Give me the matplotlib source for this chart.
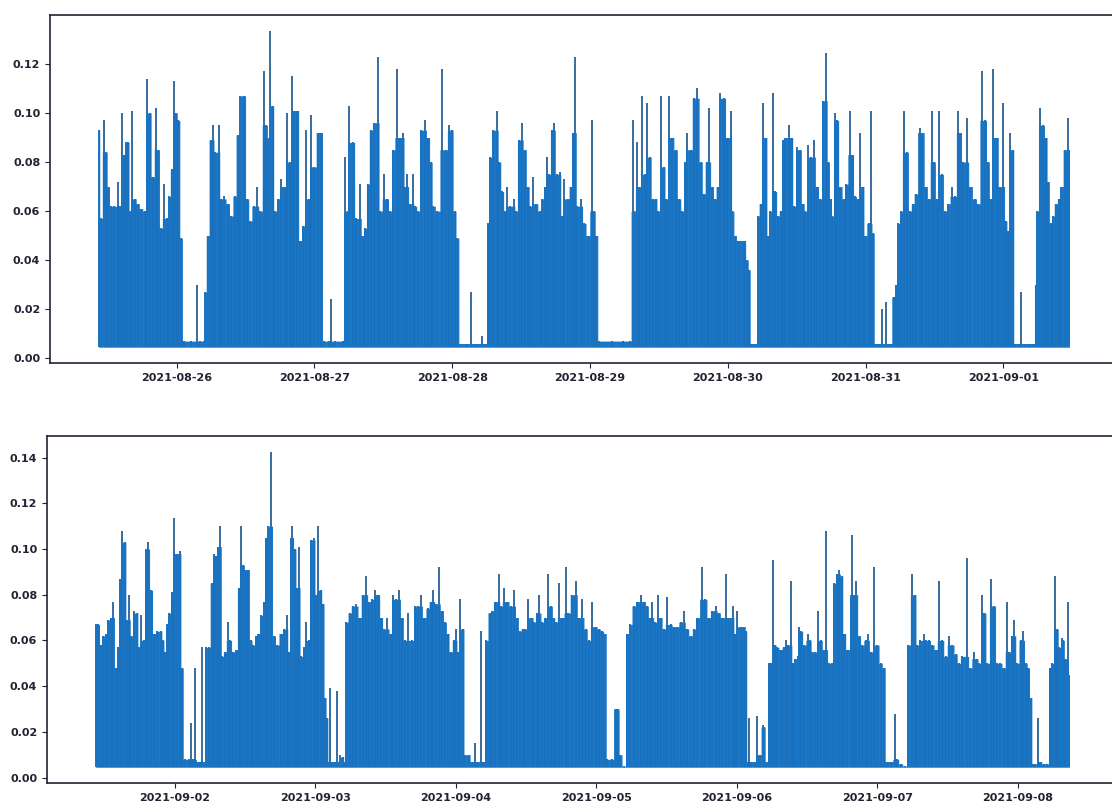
import numpy as np
import pandas as pd
import matplotlib
matplotlib.use("Agg")
import matplotlib.pyplot as plt
import matplotlib.dates as mdates

# first week, hours counted from 2021-08-25 00:00
top_start = "2021-08-25"
top_hours = [
    10.4, 10.8, 11.3, 11.7, 12.1, 12.5, 13.1, 13.7, 14.1, 14.4, 14.8, 15.2, 15.5, 15.9, 16.3, 16.7,
    17.2, 17.8, 18.4, 18.9, 19.3, 19.8, 20.4, 20.8, 21.2, 21.8, 22.3, 22.7, 23.1, 23.5, 23.9, 24.3, 24.8,
    25.2, 26.5, 27.5, 28.0, 28.7,
    28.9, 29.4, 29.9, 30.3, 30.7, 31.3, 31.7, 32.3, 32.9, 33.5, 34.1, 34.6, 35.1, 35.7, 36.3, 36.8,
    37.4, 38.0, 38.6, 39.2, 39.6, 40.0, 40.3, 40.7, 41.1, 41.7, 42.2, 42.8, 43.2, 43.7, 44.1, 44.5,
    45.0, 45.5, 46.0, 46.6, 47.0, 47.4, 48.0, 48.6, 49.2,
    49.6, 50.6, 50.9, 51.5, 53.0,
    53.4, 53.8, 54.1, 54.7, 55.3, 55.9, 56.4, 56.8, 57.3, 57.8, 58.4, 59.0, 59.5, 60.1, 60.6, 61.2,
    61.7, 62.3, 62.9, 63.4, 63.8, 64.2, 64.6, 65.1, 65.5, 66.1, 66.6, 67.2, 67.8, 68.3, 68.7, 69.4,
    70.3, 70.9, 71.4, 71.9, 72.4, 72.9,
    73.4, 74.5, 75.3, 75.9, 77.1, 77.8,
    78.2, 78.6, 79.1, 79.8, 80.2, 80.7, 81.2, 81.6, 82.1, 82.7, 83.1, 83.6, 84.1, 84.6, 85.2, 85.6,
    86.0, 86.6, 87.2, 87.7, 88.1, 88.5, 88.9, 89.3, 89.7, 90.2, 90.7, 91.1, 91.5, 92.1, 92.6, 93.0,
    93.4, 93.8, 94.4, 95.0, 95.6, 96.3, 96.7, 97.1,
    97.6, 99.9, 101.7, 102.9,
    103.4, 103.7, 104.1, 104.6, 105.1, 105.6, 106.0, 106.4, 106.9, 107.4, 107.9, 108.3, 108.8, 109.3,
    109.8, 110.3, 110.9, 111.5, 112.1, 112.5, 112.9, 113.5, 114.1, 114.7, 115.3, 115.8, 116.3, 116.7,
    117.3, 117.7, 118.2, 118.7, 119.3, 119.9, 120.5, 120.8, 121.3, 121.7, 122.0, 122.2, 122.8, 123.4, 123.7,
    124.1, 124.8,
    125.2, 125.7, 126.2, 126.6, 127.0, 127.4, 127.9, 128.3, 128.7, 129.2, 129.6, 130.0, 130.6, 131.1,
    131.5, 132.1, 132.5, 133.1, 133.5, 134.0, 134.4, 135.0, 135.5, 136.1, 136.6, 137.1, 137.5, 137.9,
    138.2, 138.6, 139.0, 139.6, 140.2, 140.6, 141.2, 141.6, 142.2, 142.6, 143.1, 143.5, 143.9, 144.5,
    144.9, 145.3,
    145.7, 146.4, 146.8, 147.3, 147.6, 148.2,
    148.9, 149.3, 149.7, 150.2, 150.6, 151.2, 151.7, 152.2, 152.7, 153.4, 153.9, 154.5, 155.0, 155.5,
    155.9, 156.4, 156.8, 157.3, 157.8, 158.4, 159.0, 159.6, 160.0, 160.4, 161.0, 161.7, 162.2, 163.0,
    163.6, 164.2, 164.8, 165.3, 165.8, 166.2, 166.8, 167.4, 168.0, 168.4, 168.8, 169.2, 169.6,
    170.0, 170.7, 171.1, 171.5, 172.6, 173.2,
    173.6, 173.9, 174.3, 174.9, 175.4, 175.8, 176.2, 176.6, 177.1, 177.7, 178.1, 178.7, 179.2, 179.5,
]
top_vals = [
    0.093, 0.057, 0.097, 0.084, 0.070, 0.062, 0.062, 0.072, 0.062, 0.100, 0.083, 0.088, 0.088, 0.060, 0.101, 0.065,
    0.063, 0.061, 0.060, 0.114, 0.100, 0.074, 0.102, 0.085, 0.053, 0.071, 0.057, 0.066, 0.077, 0.113, 0.100, 0.097, 0.049,
    0.007, 0.007, 0.030, 0.007, 0.007,
    0.027, 0.050, 0.089, 0.095, 0.084, 0.095, 0.065, 0.066, 0.063, 0.058, 0.066, 0.091, 0.107, 0.107, 0.065, 0.056,
    0.062, 0.070, 0.060, 0.117, 0.095, 0.090, 0.1335, 0.103, 0.060, 0.065, 0.073, 0.070, 0.100, 0.080, 0.115, 0.101,
    0.101, 0.048, 0.054, 0.093, 0.065, 0.099, 0.078, 0.092, 0.092,
    0.007, 0.007, 0.024, 0.007, 0.007,
    0.082, 0.060, 0.103, 0.088, 0.057, 0.071, 0.050, 0.053, 0.071, 0.093, 0.096, 0.123, 0.060, 0.075, 0.065, 0.060,
    0.085, 0.118, 0.090, 0.092, 0.070, 0.075, 0.063, 0.075, 0.062, 0.060, 0.093, 0.097, 0.090, 0.080, 0.062, 0.060,
    0.118, 0.085, 0.095, 0.093, 0.060, 0.049,
    0.006, 0.006, 0.027, 0.006, 0.009, 0.006,
    0.055, 0.082, 0.093, 0.101, 0.080, 0.068, 0.060, 0.070, 0.062, 0.065, 0.060, 0.089, 0.096, 0.085, 0.070, 0.062,
    0.074, 0.063, 0.060, 0.065, 0.070, 0.082, 0.075, 0.093, 0.096, 0.075, 0.076, 0.058, 0.073, 0.065, 0.070, 0.092,
    0.123, 0.062, 0.065, 0.055, 0.050, 0.097, 0.060, 0.050,
    0.007, 0.007, 0.007, 0.007,
    0.097, 0.060, 0.088, 0.070, 0.107, 0.075, 0.104, 0.082, 0.065, 0.065, 0.060, 0.107, 0.078, 0.065,
    0.107, 0.090, 0.085, 0.065, 0.060, 0.080, 0.092, 0.085, 0.106, 0.110, 0.080, 0.067, 0.080, 0.102,
    0.070, 0.065, 0.070, 0.108, 0.106, 0.090, 0.101, 0.060, 0.050, 0.048, 0.006, 0.048, 0.048, 0.040, 0.036,
    0.006, 0.006,
    0.058, 0.063, 0.104, 0.090, 0.050, 0.060, 0.108, 0.068, 0.058, 0.060, 0.089, 0.090, 0.095, 0.090,
    0.062, 0.086, 0.085, 0.063, 0.060, 0.087, 0.082, 0.089, 0.070, 0.065, 0.105, 0.1245, 0.080, 0.065,
    0.058, 0.100, 0.097, 0.070, 0.065, 0.071, 0.101, 0.083, 0.066, 0.065, 0.092, 0.070, 0.050, 0.055,
    0.101, 0.051,
    0.006, 0.006, 0.020, 0.006, 0.023, 0.006,
    0.025, 0.030, 0.055, 0.060, 0.101, 0.084, 0.060, 0.063, 0.067, 0.094, 0.092, 0.070, 0.065, 0.101,
    0.080, 0.065, 0.101, 0.075, 0.060, 0.063, 0.070, 0.066, 0.101, 0.092, 0.080, 0.098, 0.070, 0.065,
    0.063, 0.117, 0.097, 0.080, 0.065, 0.118, 0.090, 0.070, 0.104, 0.056, 0.052, 0.092, 0.085,
    0.006, 0.006, 0.027, 0.006, 0.006, 0.006,
    0.030, 0.060, 0.102, 0.095, 0.090, 0.072, 0.055, 0.058, 0.063, 0.065, 0.070, 0.085, 0.098, 0.085,
]

# second week, hours counted from 2021-09-01 00:00
bot_start = "2021-09-01"
bot_hours = [
    10.5, 10.9, 11.4, 11.8, 12.2, 12.6, 13.1, 13.5, 13.9, 14.3, 14.6, 15.0, 15.5, 15.8, 16.2, 16.6,
    17.1, 17.5, 17.9, 18.3, 18.7, 19.1, 19.5, 19.9, 20.5, 21.0, 21.6, 22.0, 22.3, 22.7, 23.1, 23.5,
    23.9, 24.3, 24.9, 25.2,
    25.7, 26.4, 26.8, 27.2, 27.5, 27.9, 28.3, 28.6, 28.9,
    29.4, 29.8, 30.3, 30.7, 31.1, 31.4, 31.8, 32.1, 32.5, 33.1, 33.5, 33.9, 34.5, 34.9, 35.3, 35.7,
    36.1, 36.5, 37.0, 37.4, 37.9, 38.3, 38.8, 39.2, 39.6, 40.0, 40.5, 40.9, 41.5, 42.1, 42.7, 43.1,
    43.5, 43.8, 44.1, 44.5, 44.9, 45.2, 45.6, 46.1, 46.5, 46.9, 47.3, 47.7, 48.2, 48.5, 48.9, 49.3,
    49.7, 50.0, 50.3, 50.6, 50.9, 51.5, 51.7, 52.0, 52.3, 52.7, 53.0,
    53.3, 53.9, 54.4, 55.0, 55.6, 56.1, 56.7, 57.2, 57.7, 58.2, 58.8, 59.2, 59.8, 60.3, 60.9, 61.2,
    61.8, 62.3, 62.8, 63.3, 63.9, 64.5, 65.1, 65.6, 66.0, 66.6, 67.2, 67.7, 68.1, 68.7, 69.1, 69.6,
    70.2, 70.6, 71.1, 71.7, 72.0, 72.4, 72.8, 73.2,
    73.6, 74.2, 74.7, 75.3, 75.7, 76.3, 76.7,
    77.2, 77.8, 78.2, 78.7, 79.3, 79.7, 80.2, 80.8, 81.4, 81.9, 82.5, 82.9, 83.4, 83.8, 84.4, 85.0,
    85.4, 85.9, 86.3, 86.8, 87.3, 87.8, 88.3, 88.7, 89.1, 89.6, 90.2, 90.8, 91.2, 91.9, 92.5, 93.0,
    93.6, 94.2, 94.7, 95.3, 95.9, 96.4, 97.0, 97.5,
    97.9, 98.6, 99.3, 99.7, 100.1, 100.7,
    101.3, 101.8, 102.4, 103.0, 103.6, 104.1, 104.7, 105.1, 105.5, 106.1, 106.6, 107.0, 107.5, 108.1,
    108.7, 109.2, 109.8, 110.4, 110.9, 111.5, 112.1, 112.7, 113.2, 114.1, 114.6, 115.2, 115.8, 116.4,
    116.9, 117.5, 118.1, 118.6, 119.3, 119.7, 120.1, 120.7, 121.3, 121.6,
    121.8, 122.1, 122.5, 123.1, 123.5, 123.9, 124.4, 124.7, 125.0,
    125.5, 125.8, 126.2, 126.5, 126.9, 127.5, 128.0, 128.4, 128.8, 129.2, 129.6, 130.0, 130.4, 130.7,
    131.0, 131.5, 132.1, 132.5, 132.9, 133.4, 133.9, 134.3, 134.9, 135.3, 135.7, 136.2, 136.6, 137.1,
    137.5, 137.9, 138.3, 138.9, 139.6, 140.0, 140.4, 140.9, 141.4, 142.0, 142.4, 142.9, 143.5, 144.0,
    144.6, 145.1,
    145.6, 146.3, 147.0, 147.3, 148.0, 148.7,
    149.3, 150.0, 150.4, 150.8, 151.3, 151.9, 152.3, 152.8, 153.4, 154.0, 154.5, 155.0, 155.7, 156.2,
    156.8, 157.4, 157.9, 158.5, 159.4, 159.8, 160.5, 161.0, 161.4, 161.9, 162.3, 162.8, 163.5, 163.9,
    164.5, 165.0, 165.6, 166.1, 166.5, 167.0, 167.4, 167.9, 168.5, 168.9, 169.4, 169.8, 170.2,
    170.6, 171.0, 171.4, 171.8, 172.4, 173.0,
    173.5, 173.9, 174.3, 174.7, 175.1, 175.5, 175.8, 176.1, 176.5, 176.8,
]
bot_vals = [
    0.067, 0.067, 0.058, 0.062, 0.063, 0.069, 0.070, 0.077, 0.048, 0.057, 0.087, 0.108, 0.103, 0.069, 0.080, 0.062,
    0.073, 0.072, 0.057, 0.071, 0.060, 0.100, 0.103, 0.082, 0.063, 0.064, 0.064, 0.060, 0.055, 0.067, 0.072, 0.081,
    0.1135, 0.098, 0.099, 0.048,
    0.008, 0.008, 0.024, 0.008, 0.048, 0.007, 0.007, 0.057, 0.007,
    0.057, 0.057, 0.085, 0.098, 0.097, 0.101, 0.110, 0.053, 0.055, 0.068, 0.060, 0.055, 0.056, 0.083, 0.110, 0.093,
    0.091, 0.091, 0.060, 0.058, 0.062, 0.063, 0.071, 0.077, 0.105, 0.110, 0.1425, 0.062, 0.058, 0.063, 0.065, 0.071,
    0.055, 0.105, 0.110, 0.100, 0.083, 0.101, 0.053, 0.057, 0.068, 0.060, 0.104, 0.105, 0.080, 0.110, 0.082, 0.076,
    0.035, 0.026, 0.007, 0.039, 0.007, 0.007, 0.038, 0.007, 0.010, 0.009, 0.007,
    0.068, 0.072, 0.075, 0.076, 0.070, 0.080, 0.088, 0.077, 0.078, 0.082, 0.080, 0.070, 0.065, 0.070, 0.063, 0.080,
    0.078, 0.082, 0.070, 0.060, 0.072, 0.060, 0.075, 0.075, 0.080, 0.070, 0.074, 0.077, 0.082, 0.076, 0.092, 0.073,
    0.068, 0.063, 0.055, 0.060, 0.065, 0.055, 0.078, 0.065,
    0.010, 0.010, 0.007, 0.015, 0.007, 0.064, 0.007,
    0.060, 0.072, 0.073, 0.077, 0.089, 0.075, 0.083, 0.077, 0.075, 0.082, 0.070, 0.064, 0.065, 0.065, 0.078, 0.070,
    0.068, 0.072, 0.080, 0.068, 0.070, 0.089, 0.075, 0.070, 0.068, 0.085, 0.070, 0.092, 0.072, 0.080, 0.086, 0.070,
    0.078, 0.065, 0.060, 0.077, 0.066, 0.065, 0.064, 0.063,
    0.008, 0.008, 0.030, 0.030, 0.010, 0.005,
    0.063, 0.067, 0.075, 0.077, 0.080, 0.077, 0.075, 0.070, 0.077, 0.068, 0.080, 0.070, 0.065, 0.079,
    0.067, 0.066, 0.066, 0.068, 0.073, 0.065, 0.062, 0.065, 0.070, 0.092, 0.078, 0.070, 0.073, 0.075,
    0.072, 0.070, 0.089, 0.070, 0.075, 0.063, 0.073, 0.066, 0.066, 0.064,
    0.007, 0.026, 0.007, 0.007, 0.027, 0.010, 0.023, 0.022, 0.007,
    0.050, 0.050, 0.095, 0.058, 0.057, 0.056, 0.057, 0.060, 0.058, 0.086, 0.050, 0.052, 0.053, 0.066,
    0.064, 0.058, 0.063, 0.060, 0.055, 0.055, 0.073, 0.060, 0.056, 0.108, 0.050, 0.050, 0.085, 0.089,
    0.091, 0.088, 0.063, 0.056, 0.106, 0.080, 0.086, 0.062, 0.058, 0.060, 0.063, 0.055, 0.092, 0.058,
    0.050, 0.048,
    0.007, 0.007, 0.028, 0.008, 0.006, 0.005,
    0.058, 0.089, 0.080, 0.058, 0.060, 0.063, 0.060, 0.060, 0.058, 0.056, 0.086, 0.060, 0.053, 0.062,
    0.058, 0.054, 0.050, 0.053, 0.096, 0.048, 0.055, 0.052, 0.050, 0.080, 0.072, 0.050, 0.087, 0.075,
    0.050, 0.050, 0.048, 0.077, 0.055, 0.062, 0.069, 0.050, 0.060, 0.064, 0.050, 0.048, 0.035,
    0.006, 0.006, 0.026, 0.007, 0.006, 0.006,
    0.048, 0.050, 0.088, 0.065, 0.057, 0.061, 0.060, 0.052, 0.077, 0.045,
]

# the signal never drops under this
floor = 0.0045

FILL = "#1b78c8"
EDGE = "#17538c"


def draw_week(ax, start, hours, vals):
    t = pd.Timestamp(start) + pd.to_timedelta(np.array(hours), unit="h")
    v = np.array(vals)

    # the wide part of the trace: a reading stays wide only if a neighbour is as high,
    # single peaks are drawn below as thin spikes
    prev_v = np.r_[v[0], v[:-1]]
    next_v = np.r_[v[1:], v[-1]]
    body = np.minimum(v, np.maximum(prev_v, next_v))
    ax.fill_between(t, floor, body, step="mid", color=FILL, linewidth=0)
    ax.vlines(t, floor, v, color=EDGE, linewidth=1.2)
    ax.vlines(t, floor, body, color=FILL, linewidth=1.2)

    ax.xaxis.set_major_locator(mdates.DayLocator())
    ax.xaxis.set_major_formatter(mdates.DateFormatter("%Y-%m-%d"))
    for side in ["left", "bottom", "top", "right"]:
        ax.spines[side].set_color("#222233")
        ax.spines[side].set_linewidth(1.2)
    ax.tick_params(labelsize=8, colors="#222233")
    for lab in ax.get_xticklabels() + ax.get_yticklabels():
        lab.set_fontweight("bold")


fig = plt.figure(figsize=(11.12, 8.06), dpi=100)
ax1 = fig.add_axes([0.045, 0.5496, 0.9604, 0.4318])
ax2 = fig.add_axes([0.0423, 0.0285, 0.9631, 0.4305])

draw_week(ax1, top_start, top_hours, top_vals)
draw_week(ax2, bot_start, bot_hours, bot_vals)

plt.savefig("out.png", dpi=100)
print("saved: out.png")
